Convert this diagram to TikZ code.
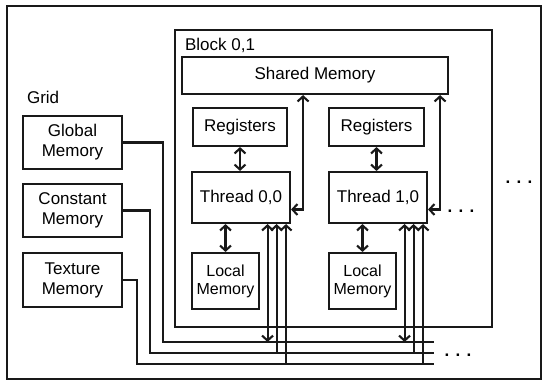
\documentclass[tikz,border=0pt]{standalone}
\usepackage{fontspec}
\setmainfont{Liberation Sans}
\usetikzlibrary{arrows.meta,positioning}

\tikzset{
  mem/.style={draw, line width=2.1pt, align=center, inner sep=0pt,
    font=\fontsize{17}{20}\selectfont},
  locmem/.style={mem, font=\fontsize{16}{18}\selectfont},
  lbl/.style={anchor=base west, inner sep=0pt, font=\fontsize{17}{20}\selectfont},
  more/.style={anchor=base, inner sep=0pt, font=\bfseries\fontsize{17}{20}\selectfont}
}

\begin{document}
\begin{tikzpicture}[x=1pt, y=-1pt, line width=2.1pt, draw=black!90,
    >={Straight Barb[length=5pt,width=11pt]}]
        \useasboundingbox (0,0) rectangle (544,381);
        \draw (7,6) rectangle (541,379);

        % grid memories
        \node[lbl] (grid) at (26,103) {Grid};
        \node[mem, minimum width=99, minimum height=53] (glob) at (72.5,142.5) {Global\\Memory};
        \node[mem, minimum width=99, minimum height=53] (const) at (72.5,210.5) {Constant\\Memory};
        \node[mem, minimum width=99, minimum height=54] (tex) at (72.5,280) {Texture\\Memory};

        % block
        \node[draw, minimum width=317, minimum height=297] (blk) at (333.5,178.5) {};
        \node[lbl] (blklbl) at (184,50) {Block 0,1};
        \node[mem, minimum width=266, minimum height=37] (shared) at (315,75.5) {Shared Memory};

        \node[mem, minimum width=94, minimum height=38] (reg0) at (240,127) {Registers};
        \node[mem, minimum width=95, minimum height=38] (reg1) at (376.5,127) {Registers};
        \node[mem, minimum width=98, minimum height=51] (thr0) at (241,197.5) {Thread 0,0};
        \node[mem, minimum width=98, minimum height=51] (thr1) at (378,197.5) {Thread 1,0};
        \node[locmem, minimum width=67, minimum height=56] (loc0) at (225.5,281) {Local\\Memory};
        \node[locmem, minimum width=67, minimum height=56] (loc1) at (362.5,281) {Local\\Memory};

        % bus lines
        \coordinate (gbus) at (434,342);
        \coordinate (cbus) at (434,353);
        \coordinate (tbus) at (434,364);
        \draw (glob.east) -- ++(40,0) |- (gbus);
        \draw (const.east) -- ++(27,0) |- (cbus);
        \draw (tex.east) -- ++(14,0) |- (tbus);

        \foreach \t/\r/\l in {thr0/reg0/loc0, thr1/reg1/loc1} {
          \draw[<->] (\r.south) -- (\r.south |- \t.north);
          \draw[<->] (\l.north |- \t.south) -- (\l.north);
          \coordinate (\t up) at ([xshift=12pt]\t.east);
          \draw[<->] ([yshift=-12pt]\t.east) -| (\t up |- shared.south);
          \coordinate (\t g) at ([xshift=-23.5pt]\t.south east);
          \coordinate (\t c) at ([xshift=-14.5pt]\t.south east);
          \coordinate (\t x) at ([xshift=-5pt]\t.south east);
          \draw[<->] (\t g) -- (\t g |- gbus);
          \draw[->] (\t c |- cbus) -- (\t c);
          \draw[->] (\t x |- tbus) -- (\t x);
        }

        % more blocks / threads
        \node[more] (dots1) at (519,183) {. . .};
        \node[more] (dots2) at (461,212) {. . .};
        \node[more] (dots3) at (458,356) {. . .};
    \end{tikzpicture}
\end{document}
